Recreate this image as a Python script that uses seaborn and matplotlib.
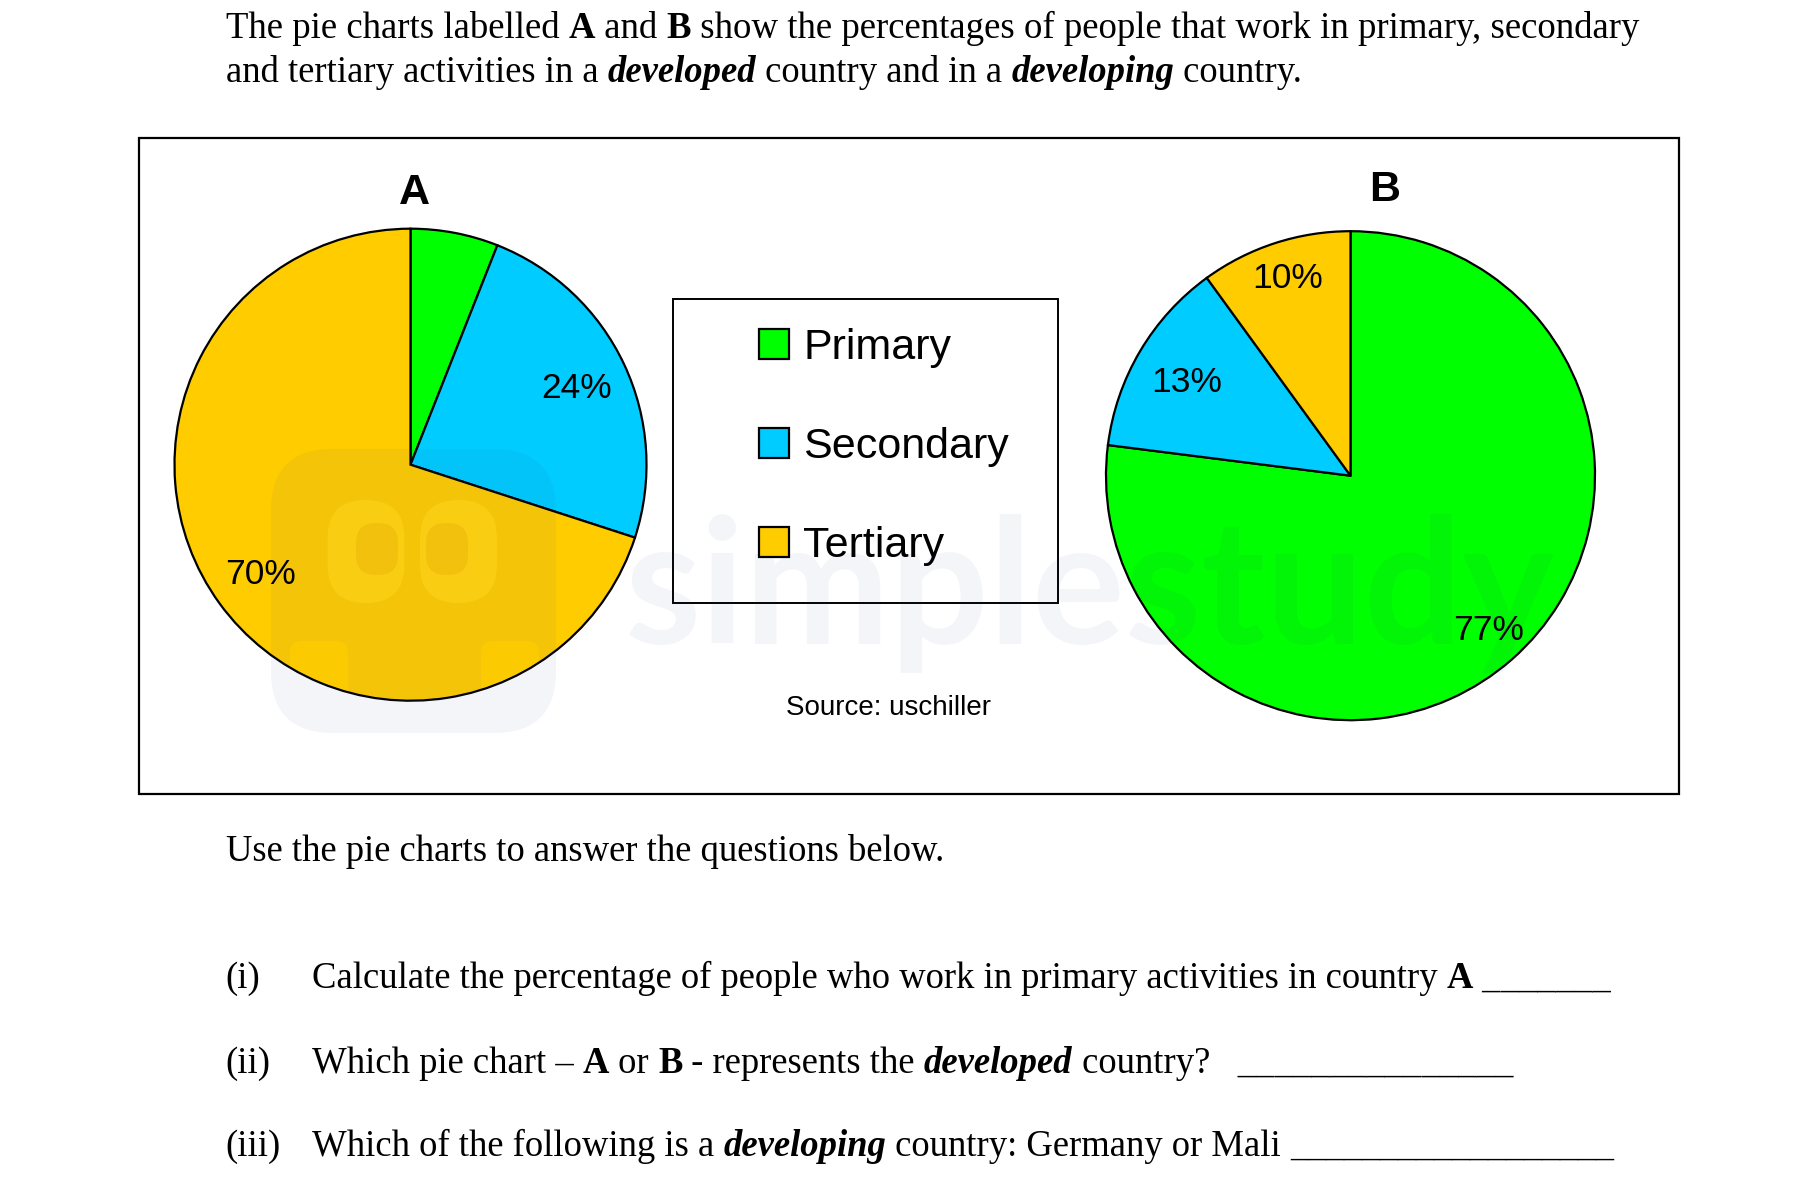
import matplotlib
matplotlib.use("Agg")
import matplotlib.pyplot as plt
from matplotlib.patches import Circle, FancyBboxPatch, Rectangle
import seaborn as sns

# --------- DATA ----------
categories = ["Primary", "Secondary", "Tertiary"]
values_a = [6, 24, 70]
values_b = [77, 13, 10]
labels_a = ["", "24%", "70%"]
labels_b = ["77%", "13%", "10%"]
colors = ["#00FF00", "#00CCFF", "#FFCC00"]

W, H = 1818, 1180

sns.set_theme(style="white")
palette = sns.color_palette(colors)
plt.rcParams["font.family"] = ["Liberation Sans", "DejaVu Sans"]
plt.rcParams["text.color"] = "black"

fig = plt.figure(figsize=(W / 100, H / 100), dpi=100, facecolor="white")


# --------- PIE CHARTS ----------
def draw_pie(values, cx, cy, r):
    side = r * 2.2
    ax = fig.add_axes([(cx - side / 2) / W, 1 - (cy + side / 2) / H, side / W, side / H])
    wedges, _ = ax.pie(values, colors=palette, startangle=90, counterclock=False,
                       wedgeprops={"edgecolor": "black", "linewidth": 1.6, "joinstyle": "miter"})
    ax.set_xlim(-1.1, 1.1)
    ax.set_ylim(-1.1, 1.1)
    return wedges


wedges_a = draw_pie(values_a, 410.5, 464.7, 236)
wedges_b = draw_pie(values_b, 1350.5, 475.7, 244.5)

# page axes in pixels, everything else goes here
page = fig.add_axes([0, 0, 1, 1], zorder=5)
page.set_xlim(0, W)
page.set_ylim(H, 0)
page.axis("off")
page.patch.set_alpha(0)

page.add_patch(Rectangle((138.5, 138), 1540.5, 656, fill=False, edgecolor="black", linewidth=1.6))
page.add_patch(Rectangle((672.5, 299), 385.5, 303.5, facecolor="white", edgecolor="black", linewidth=1.4))

leg = page.legend(wedges_a, categories, loc="upper left", bbox_to_anchor=(759 / W, 1 - 328 / H),
                  bbox_transform=fig.transFigure, frameon=False, fontsize=31, borderpad=0,
                  borderaxespad=0, handlelength=0.7, handleheight=0.7, handletextpad=0.33,
                  labelspacing=1.37)

sans = {"ha": "center", "va": "baseline", "color": "black"}
page.text(414.5, 204, "A", fontsize=31, fontweight="bold", **sans)
page.text(1384.5, 201, "B", fontsize=31, fontweight="bold", **sans)

label_pos_a = [None, (576.5, 398.5), (260.5, 583.5)]
label_pos_b = [(1489, 640), (1187, 392.5), (1288, 287.5)]
for labels, positions in [(labels_a, label_pos_a), (labels_b, label_pos_b)]:
    for lab, pos in zip(labels, positions):
        if lab:
            page.text(pos[0], pos[1], lab, fontsize=25.5, **sans)

page.text(889, 715, "Source: uschiller", fontsize=20, **sans)

# --------- QUESTION TEXT ----------
renderer = fig.canvas.get_renderer()
SERIF = "Liberation Serif"
SIZE = 26.4


def run_width(s, weight, style, size):
    # the x's stop trailing spaces from being dropped
    a = page.text(0, 0, "x" + s + "x", family=SERIF, fontsize=size, fontweight=weight, fontstyle=style)
    b = page.text(0, 0, "xx", family=SERIF, fontsize=size, fontweight=weight, fontstyle=style)
    w = a.get_window_extent(renderer).width - b.get_window_extent(renderer).width
    a.remove()
    b.remove()
    return w


def write_line(x, y, runs, size=SIZE):
    for s, kind in runs:
        weight = "bold" if "b" in kind else "normal"
        style = "italic" if "i" in kind else "normal"
        page.text(x, y, s, family=SERIF, fontsize=size, fontweight=weight, fontstyle=style,
                  ha="left", va="baseline", color="black")
        x += run_width(s, weight, style, size)


write_line(225.5, 38.5, [("The pie charts labelled ", ""), ("A", "b"), (" and ", ""), ("B", "b"),
                         (" show the percentages of people that work in primary, secondary", "")], size=26.45)
write_line(225.5, 81.5, [("and tertiary activities in a ", ""), ("developed", "bi"),
                         (" country and in a ", ""), ("developing", "bi"), (" country.", "")])
write_line(225.5, 861, [("Use the pie charts to answer the questions below.", "")])

write_line(225.5, 988, [("(i)", "")])
write_line(312, 988, [("Calculate the percentage of people who work in primary activities in country ", ""),
                      ("A", "b"), (" _______", "")])
write_line(225.5, 1073, [("(ii)", "")])
write_line(312, 1073, [("Which pie chart \u2013 ", ""), ("A", "b"), (" or ", ""), ("B", "b"),
                       (" - represents the ", ""), ("developed", "bi"), (" country?   _______________", "")])
write_line(225.5, 1156, [("(iii)", "")])
write_line(312, 1156, [("Which of the following is a ", ""), ("developing", "bi"),
                       (" country: Germany or Mali", "")])
write_line(1290, 1156, [("__________________", "")], size=25.8)

# --------- WATERMARK ----------
mark = "#2B4C9B"
page.add_patch(FancyBboxPatch((271, 449), 285, 284, boxstyle="round,pad=0,rounding_size=62",
                              facecolor=mark, edgecolor="none", alpha=0.055))
for ex in (327.5, 420):
    page.add_patch(FancyBboxPatch((ex, 500), 77, 103, boxstyle="round,pad=0,rounding_size=38",
                                  facecolor="#FFD820", edgecolor="none", alpha=0.45))
for ex in (356, 426):
    page.add_patch(FancyBboxPatch((ex, 523), 42, 52, boxstyle="round,pad=0,rounding_size=20",
                                  facecolor="#E0A000", edgecolor="none", alpha=0.25))
for ex in (290, 481):
    corner = FancyBboxPatch((ex, 641), 58, 62, boxstyle="round,pad=0,rounding_size=12",
                            facecolor="#FFCC00", edgecolor="none", alpha=0.8)
    page.add_patch(corner)
    corner.set_clip_path(Circle((410.5, 464.7), 234.5, transform=page.transData))
page.text(625, 644, "simplestudy", family="Lato", fontweight="bold", fontsize=125, color=mark, alpha=0.05,
          ha="left", va="baseline")

fig.savefig("out.png", dpi=100)
